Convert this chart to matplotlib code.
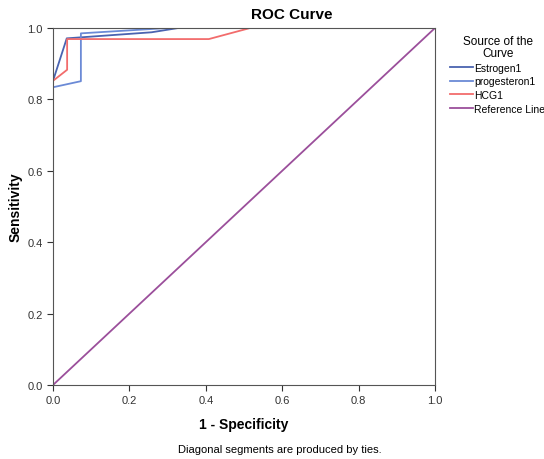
import matplotlib.pyplot as plt

# ROC points (1 - specificity, sensitivity)
estrogen_x = [0.0, 0.0, 0.036, 0.258, 0.328, 1.0]
estrogen_y = [0.0, 0.852, 0.971, 0.988, 1.0, 1.0]

progest_x = [0.0, 0.0, 0.073, 0.073, 0.30, 1.0]
progest_y = [0.0, 0.834, 0.851, 0.985, 1.0, 1.0]

hcg_x = [0.0, 0.0, 0.037, 0.037, 0.408, 0.516, 1.0]
hcg_y = [0.0, 0.852, 0.883, 0.969, 0.969, 1.0, 1.0]

ref_x = [0.0, 1.0]
ref_y = [0.0, 1.0]

ticks = [0.0, 0.2, 0.4, 0.6, 0.8, 1.0]

plt.rcParams['font.family'] = ['Liberation Sans', 'DejaVu Sans']

fig = plt.figure(figsize=(5.44, 4.6), dpi=100)
ax = fig.add_axes([53/544, 74/460, 382/544, 357/460])

ax.plot(estrogen_x, estrogen_y, color='#4a63b0', lw=1.3, label='Estrogen1')
ax.plot(progest_x, progest_y, color='#6b8ad6', lw=1.3, label='progesteron1')
ax.plot(hcg_x, hcg_y, color='#f26c6c', lw=1.3, label='HCG1')
ax.plot(ref_x, ref_y, color='#9b4f9b', lw=1.3, label='Reference Line')

ax.set_xlim(0, 1)
ax.set_ylim(0, 1)
ax.set_xticks(ticks)
ax.set_yticks(ticks)
ax.set_xticklabels(['%.1f' % t for t in ticks])
ax.set_yticklabels(['%.1f' % t for t in ticks])
ax.tick_params(labelsize=8, colors='#333333', length=4, width=0.8)
for s in ax.spines.values():
    s.set_color('#555555')
    s.set_linewidth(0.8)

ax.set_xlabel('1 - Specificity', fontsize=10, fontweight='bold', labelpad=8)
ax.set_ylabel('Sensitivity', fontsize=10, fontweight='bold', labelpad=3)

fig.text(292/544, 1 - 15/460, 'ROC Curve', ha='center', va='center',
         fontsize=11, fontweight='bold')
fig.text(280/544, 1 - 450/460, 'Diagonal segments are produced by ties.',
         ha='center', va='center', fontsize=8)

leg = fig.legend(loc='upper left', bbox_to_anchor=(446/544, 1 - 32/460),
                 frameon=False, fontsize=7.5, title='Source of the\nCurve',
                 title_fontsize=8.5, handlelength=2.2, handletextpad=0.1,
                 labelspacing=0.35, borderaxespad=0, alignment='center')
leg.get_title().set_multialignment('center')
leg.get_title().set_linespacing(1.0)

fig.savefig('out.png', dpi=100)
